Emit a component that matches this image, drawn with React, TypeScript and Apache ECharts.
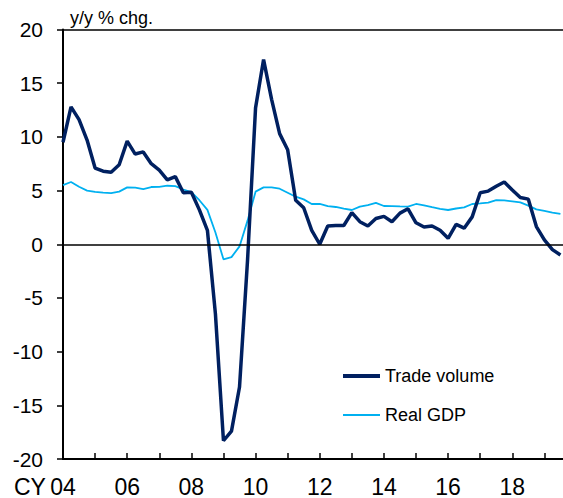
import React, { useEffect, useRef } from "react";
import * as echarts from "echarts";

const startYear = 2004;
const xTickLabels: Record<number, string> = {
  2004: "04", 2006: "06", 2008: "08", 2010: "10", 2012: "12", 2014: "14", 2016: "16", 2018: "18",
};
const yTicks = { min: -20, max: 20, interval: 5 };

// Quarterly, 2004Q1 .. 2019Q3
const tradeVolume = [
  9.5, 12.8, 11.6, 9.7,
  7.1, 6.8, 6.7, 7.4,
  9.6, 8.4, 8.6, 7.5,
  6.9, 6.0, 6.3, 4.8,
  4.85, 3.2, 1.3, -6.5,
  -18.3, -17.4, -13.3, -1.5,
  12.7, 17.2, 13.5, 10.3,
  8.8, 4.1, 3.4, 1.3,
  0.0, 1.7, 1.75, 1.75,
  2.95, 2.1, 1.7, 2.4,
  2.6, 2.1, 2.9, 3.3,
  2.0, 1.6, 1.7, 1.3,
  0.55, 1.85, 1.5, 2.55,
  4.8, 4.95, 5.4, 5.8,
  5.05, 4.35, 4.2, 1.65,
  0.4, -0.5, -1.0,
];
const realGDP = [
  5.5, 5.8, 5.35, 5.0,
  4.87, 4.8, 4.77, 4.9,
  5.3, 5.27, 5.14, 5.33,
  5.35, 5.45, 5.42, 5.1,
  4.85, 4.1, 3.2, 1.1,
  -1.4, -1.2, -0.2, 2.2,
  4.9, 5.3, 5.3, 5.17,
  4.8, 4.43, 4.18, 3.75,
  3.75, 3.56, 3.47, 3.31,
  3.19, 3.5, 3.65, 3.85,
  3.56, 3.55, 3.52, 3.5,
  3.75, 3.62, 3.45, 3.3,
  3.19, 3.33, 3.43, 3.75,
  3.8, 3.87, 4.1, 4.08,
  4.0, 3.9, 3.6, 3.25,
  3.1, 2.95, 2.82,
];

const FONT = "'Liberation Sans', Arial, Helvetica, sans-serif";

export default function App() {
  const ref = useRef<HTMLDivElement>(null);
  useEffect(() => {
    if (!ref.current) return;
    const chart = echarts.init(ref.current, undefined, { renderer: "svg" });
    const toPts = (arr: number[]) => arr.map((v, i) => [startYear + i * 0.25, v]);
    chart.setOption({
      animation: false,
      backgroundColor: "#ffffff",
      grid: { left: 63, right: 0, top: 29.5, bottom: 39, containLabel: false },
      xAxis: [
        {
          type: "value",
          position: "bottom",
          min: 2004,
          max: 2019.58,
          interval: 1,
          axisLine: { onZero: false, lineStyle: { color: "#000", width: 2 } },
          axisTick: { inside: true, length: 6, lineStyle: { color: "#000", width: 1.5 } },
          axisLabel: {
            color: "#000",
            fontSize: 23,
            fontFamily: FONT,
            margin: 16,
            showMaxLabel: false,
            formatter: (v: number) => xTickLabels[Math.round(v * 100) / 100] ?? "",
          },
          splitLine: { show: false },
        },
        {
          type: "value",
          position: "top",
          min: 2004,
          max: 2019.58,
          axisLine: { onZero: false, lineStyle: { color: "#000", width: 1.5 } },
          axisTick: { show: false },
          axisLabel: { show: false },
          splitLine: { show: false },
        },
      ],
      yAxis: {
        type: "value",
        min: yTicks.min,
        max: yTicks.max,
        interval: yTicks.interval,
        axisLine: { show: true, onZero: false, lineStyle: { color: "#000", width: 2 } },
        axisTick: { show: true, inside: false, length: 6, lineStyle: { color: "#000", width: 1.5 } },
        axisLabel: { color: "#000", fontSize: 21, fontFamily: FONT, margin: 20 },
        splitLine: { show: false },
      },
      legend: [
        {
          data: ["Trade volume"],
          left: 343,
          top: 367,
          icon: "rect",
          itemWidth: 37,
          itemHeight: 4,
          padding: 0,
          selectedMode: false,
          textStyle: { color: "#000", fontSize: 18, fontFamily: FONT },
        },
        {
          data: ["Real GDP"],
          left: 343,
          top: 406,
          icon: "rect",
          itemWidth: 37,
          itemHeight: 2,
          padding: 0,
          selectedMode: false,
          textStyle: { color: "#000", fontSize: 18, fontFamily: FONT },
        },
      ],
      graphic: [
        {
          type: "text",
          left: 70,
          top: 9,
          style: { text: "y/y % chg.", fill: "#000", fontSize: 18, fontFamily: FONT },
        },
        {
          type: "text",
          left: 14,
          top: 475,
          style: { text: "CY", fill: "#000", fontSize: 23, fontFamily: FONT },
        },
      ],
      series: [
        {
          name: "Real GDP",
          type: "line",
          data: toPts(realGDP),
          showSymbol: false,
          symbol: "none",
          z: 2,
          lineStyle: { color: "#00B0F0", width: 1.8 },
          itemStyle: { color: "#00B0F0" },
          markLine: {
            silent: true,
            symbol: "none",
            label: { show: false },
            lineStyle: { color: "#000", width: 1.5, type: "solid" },
            data: [{ yAxis: 0 }],
          },
        },
        {
          name: "Trade volume",
          type: "line",
          data: toPts(tradeVolume),
          showSymbol: false,
          symbol: "none",
          z: 3,
          lineStyle: { color: "#002060", width: 3.5 },
          itemStyle: { color: "#002060" },
        },
      ],
    });
    return () => chart.dispose();
  }, []);
  return (
    <div
      ref={ref}
      style={{ position: "fixed", left: 0, top: 0, width: 563, height: 498, background: "#fff" }}
    />
  );
}
